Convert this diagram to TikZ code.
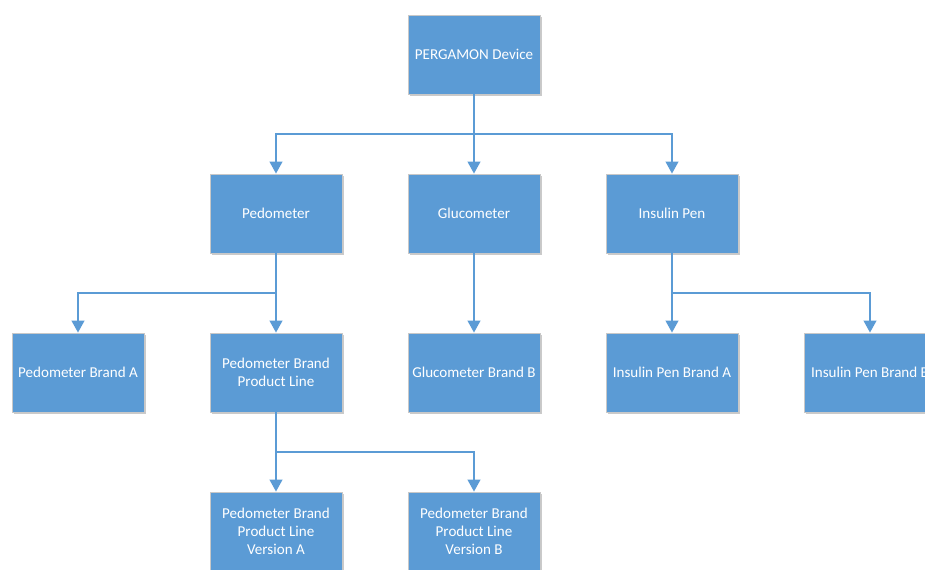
\documentclass[tikz,border=0pt]{standalone}
\usepackage{fontspec}
\setmainfont{Carlito}
\usetikzlibrary{shadows,arrows.meta}
\definecolor{boxblue}{HTML}{5B9BD5}
\definecolor{boxedge}{HTML}{C8C8C8}
\definecolor{linkblue}{HTML}{5B9BD5}
\begin{document}
\begin{tikzpicture}[x=0.75pt,y=-0.75pt,
  orgbox/.style={draw=boxedge,line width=0.6pt,fill=boxblue,minimum width=99pt,minimum height=59.25pt,
    inner sep=2pt,align=center,text=white,font=\fontsize{11.3}{13.5}\selectfont,
    drop shadow={shadow xshift=1.5pt,shadow yshift=-1.5pt,opacity=0.35,fill=black!60}},
  link/.style={draw=linkblue,line width=1.5pt},
  arr/.style={link,-{Triangle[length=9pt,width=9.5pt]}}]
\useasboundingbox (0,0) rectangle (925,569);

% boxes
\node[orgbox] (pg)   at (474,54.5)  {PERGAMON Device};
\node[orgbox] (ped)  at (276,213.5) {Pedometer};
\node[orgbox] (glu)  at (474,213.5) {Glucometer};
\node[orgbox] (ins)  at (672,213.5) {Insulin Pen};
\node[orgbox] (peda) at (78,372.5)  {Pedometer Brand A};
\node[orgbox] (pedl) at (276,372.5) {Pedometer Brand\\Product Line};
\node[orgbox] (glub) at (474,372.5) {Glucometer Brand B};
\node[orgbox] (insa) at (672,372.5) {Insulin Pen Brand A};
\node[orgbox] (insb) at (870,372.5) {Insulin Pen Brand B};
\node[orgbox] (pva)  at (276,531.5) {Pedometer Brand\\Product Line\\Version A};
\node[orgbox] (pvb)  at (474,531.5) {Pedometer Brand\\Product Line\\Version B};

% bus junctions
\coordinate (j1) at (474,134);
\coordinate (j2) at (276,293);
\coordinate (j3) at (672,293);
\coordinate (j4) at (276,452);

% connectors
\draw[link] (pg.south) -- (j1);
\draw[arr] (j1) -| (ped.north);
\draw[arr] (j1) -- (glu.north);
\draw[arr] (j1) -| (ins.north);
\draw[link] (ped.south) -- (j2);
\draw[arr] (j2) -| (peda.north);
\draw[arr] (j2) -- (pedl.north);
\draw[arr] (glu.south) -- (glub.north);
\draw[link] (ins.south) -- (j3);
\draw[arr] (j3) -- (insa.north);
\draw[arr] (j3) -| (insb.north);
\draw[link] (pedl.south) -- (j4);
\draw[arr] (j4) -- (pva.north);
\draw[arr] (j4) -| (pvb.north);
\end{tikzpicture}
\end{document}
